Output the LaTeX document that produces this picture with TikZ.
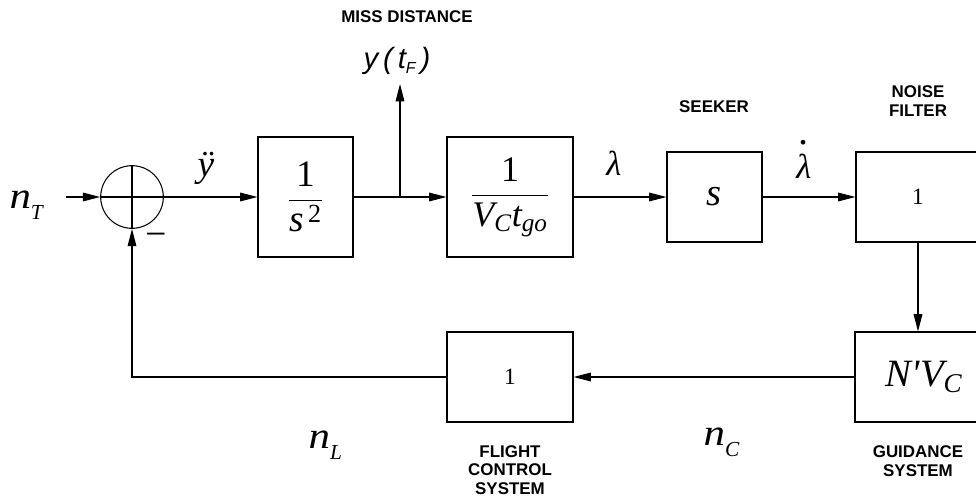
\documentclass[tikz,border=0pt]{standalone}
\usepackage{amsmath}
\usepackage{graphicx}
\usepackage{fontspec}
\setmainfont{Liberation Serif}
\newfontfamily\arial{Liberation Sans}
\usetikzlibrary{arrows.meta,calc}
\begin{document}
\begin{tikzpicture}[x=0.75pt,y=-0.75pt,line width=0.8pt,
  blk/.style={draw, inner sep=0pt, line width=0.8pt},
  arr/.style={-{Triangle[length=13pt,width=6.5pt]}},
  lbl/.style={font=\arial\bfseries\fontsize{12.7}{13.9}\selectfont, align=center, inner sep=0pt},
  sym/.style={inner sep=0pt}]
\useasboundingbox (0,0) rectangle (976,500);
% summing junction
\node[draw, circle, minimum size=47pt, inner sep=0pt] (sum) at (132,197) {};
\draw (sum.north) -- (sum.south);
\draw (sum.west) -- (sum.east);
% blocks
\node[blk, minimum width=71.25pt, minimum height=90pt] (b1) at (305.5,197)
  {\fontsize{28}{32}\selectfont $\dfrac{\text{1}}{\text{\itshape s}^{\,\text{2}}}$};
\node[blk, minimum width=94.5pt, minimum height=90pt] (b2) at (510,197)
  {\fontsize{27}{32}\selectfont $\dfrac{\text{1}}{\text{\itshape V}_{\text{\itshape C}}\text{\itshape t}_{\text{\itshape go}}}$};
\node[blk, minimum width=71.25pt, minimum height=67.5pt] (sk) at (714.5,197)
  {\fontsize{29}{32}\selectfont\itshape s};
\node[blk, minimum width=93pt, minimum height=67.5pt] (nf) at (918,197)
  {\fontsize{17.5}{20}\selectfont 1};
\node[blk, minimum width=93.75pt, minimum height=67.5pt] (gd) at (917.5,377)
  {\fontsize{29}{32}\selectfont\hspace*{10pt}$\text{\itshape N\textquotesingle V}_{\text{\itshape C}}$};
\node[blk, minimum width=94.5pt, minimum height=67.5pt] (fc) at (510,377)
  {\fontsize{17.5}{20}\selectfont 1};
% coordinates
\coordinate (in) at (66,197);
\coordinate (br) at (400,197);
\coordinate (yt) at (400,84);
% connectors
\draw[arr] (in) -- (sum.west);
\draw[arr] (sum.east) -- (b1.west);
\draw[arr] (b1.east) -- (b2.west);
\draw[arr] (br) -- (yt);
\draw[arr] (b2.east) -- (sk.west);
\draw[arr] (sk.east) -- (nf.west);
\draw[arr] (nf.south) -- (nf.south |- gd.north);
\draw[arr] (gd.west) -- (fc.east);
\draw[arr] (fc.west) -| (sum.south);
% labels
\node[lbl] (lmiss) at (407,17) {MISS DISTANCE};
\node[sym, font=\arial\itshape\fontsize{22}{26}\selectfont] (lyt) at (397,61) {y\,(\,t\raisebox{-4pt}{\fontsize{12}{12}\selectfont F}\,)};
\node[sym, font=\fontsize{28}{32}\selectfont\itshape] (lydd) at (206,168) {ÿ};
\node[sym, font=\fontsize{28}{32}\selectfont] (lmin) at (156,240) {−};
\node[sym, anchor=base west, font=\fontsize{28}{32}\selectfont\itshape] (lnt) at (9,208)
  {\scalebox{1.15}[1]{n}\raisebox{-8.5pt}{\fontsize{16}{16}\selectfont T}};
\node[sym, anchor=base west, font=\fontsize{28}{32}\selectfont\itshape] (lnl) at (308,448)
  {\scalebox{1.15}[1]{n}\raisebox{-8.5pt}{\fontsize{16}{16}\selectfont L}};
\node[sym, anchor=base west, font=\fontsize{28}{32}\selectfont\itshape] (lnc) at (703,445)
  {\scalebox{1.15}[1]{n}\raisebox{-8.5pt}{\fontsize{16}{16}\selectfont C}};
\node[sym, font=\fontsize{26}{30}\selectfont\itshape] (llam) at (614,163) {λ};
\node[sym, font=\fontsize{26}{30}\selectfont\itshape] (lldot) at (804,166)
  {\ooalign{λ\cr\hidewidth\raisebox{25pt}{\fontsize{30}{30}\selectfont .}\hidewidth}};
\node[lbl] (lseek) at (714,107) {SEEKER};
\node[lbl] (lnf) at (918,101) {NOISE\\FILTER};
\node[lbl] (lfc) at (510,470) {FLIGHT\\CONTROL\\SYSTEM};
\node[lbl] (lgd) at (918,461) {GUIDANCE\\SYSTEM};
\end{tikzpicture}
\end{document}
